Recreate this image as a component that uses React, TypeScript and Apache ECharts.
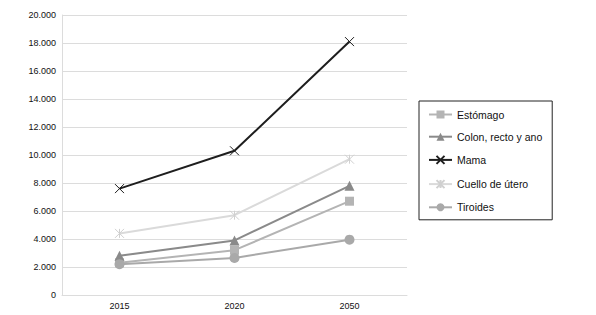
import React, { useEffect, useRef } from "react";
import * as echarts from "echarts";

const years = ["2015", "2020", "2050"];
const estomago = [2300, 3200, 6700];
const colon = [2800, 3900, 7800];
const mama = [7600, 10300, 18100];
const cuello = [4400, 5700, 9700];
const tiroides = [2200, 2650, 3950];

const FONT = "Liberation Sans, Arial, sans-serif";

export default function App() {
  const ref = useRef<HTMLDivElement>(null);
  useEffect(() => {
    const chart = echarts.init(ref.current!, null, { renderer: "svg" });
    const fmt = (v: number) => String(v).replace(/\B(?=(\d{3})+(?!\d))/g, ".");
    const mk = (name: string, data: number[], color: string, symbol: string, size: number) => ({
      name,
      type: "line",
      data,
      symbol,
      symbolSize: size,
      lineStyle: { color, width: 2 },
      itemStyle: { color },
    });
    chart.setOption({
      animation: false,
      grid: { left: 62, right: 189, top: 15, bottom: 20 },
      legend: {
        orient: "vertical",
        left: 419,
        top: 101,
        padding: [8, 10, 7, 9],
        itemGap: 11.2,
        itemWidth: 23,
        itemHeight: 10,
        borderColor: "#222",
        borderWidth: 1,
        textStyle: { fontFamily: FONT, fontSize: 10.5, color: "#111" },
        data: ["Estómago", "Colon, recto y ano", "Mama", "Cuello de útero", "Tiroides"],
      },
      xAxis: {
        type: "category",
        data: years,
        boundaryGap: true,
        axisLine: { lineStyle: { color: "#dcdcdc", width: 1 } },
        axisTick: { show: false },
        axisLabel: { fontFamily: FONT, fontSize: 9, color: "#111", margin: 6 },
      },
      yAxis: {
        type: "value",
        min: 0,
        max: 20000,
        interval: 2000,
        axisLine: { show: true, lineStyle: { color: "#dcdcdc" } },
        axisTick: { show: false },
        splitLine: { lineStyle: { color: "#dcdcdc" } },
        axisLabel: { fontFamily: FONT, fontSize: 9, color: "#111", margin: 6, formatter: fmt },
      },
      series: [
        mk("Estómago", estomago, "#b4b4b4", "rect", 9),
        mk("Colon, recto y ano", colon, "#8a8a8a", "triangle", 10),
        {
          name: "Mama",
          type: "line",
          data: mama,
          symbol: "path://M0,0L10,10M10,0L0,10",
          symbolSize: 9,
          lineStyle: { color: "#1e1e1e", width: 2 },
          itemStyle: { color: "none", borderColor: "#1e1e1e", borderWidth: 1 },
        },
        {
          name: "Cuello de útero",
          type: "line",
          data: cuello,
          symbol: "path://M0,0L10,10M10,0L0,10M5,0L5,10",
          symbolSize: 9,
          lineStyle: { color: "#dadada", width: 2 },
          itemStyle: { color: "none", borderColor: "#d0d0d0", borderWidth: 1 },
        },
        mk("Tiroides", tiroides, "#a9a9a9", "circle", 10),
      ],
    });
    return () => chart.dispose();
  }, []);
  return <div ref={ref} style={{ width: 596, height: 315, position: "absolute", left: 0, top: 0 }} />;
}
